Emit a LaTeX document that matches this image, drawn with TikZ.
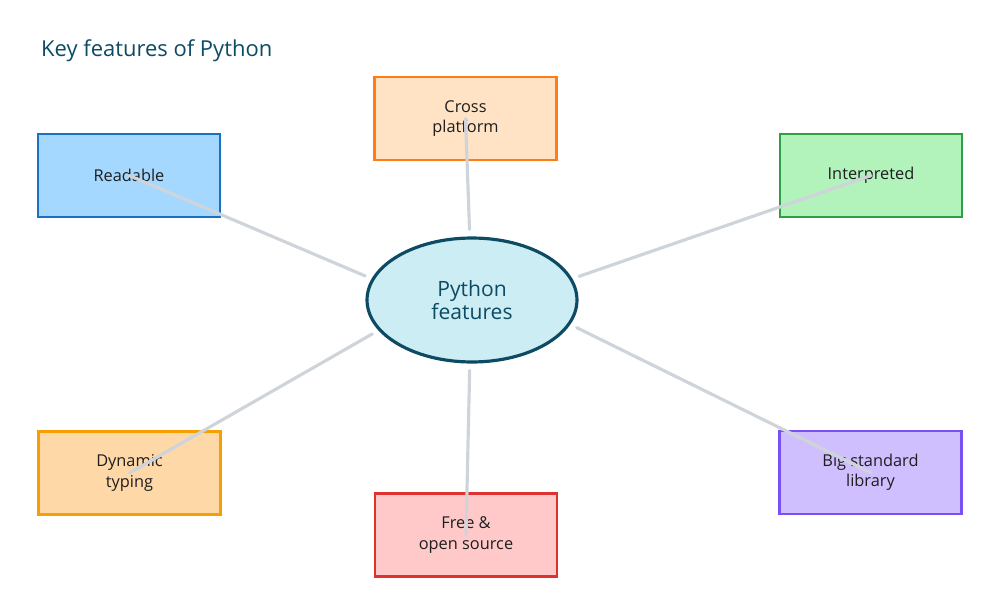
\documentclass[tikz,border=0pt]{standalone}
\usepackage{fontspec}
\setmainfont{Open Sans}
\usetikzlibrary{shapes.geometric}
\definecolor{ink}{HTML}{1E1E1E}
\definecolor{hubline}{HTML}{0D4A63}
\definecolor{hubfill}{HTML}{CDEDF4}
\definecolor{linkgray}{HTML}{CED4DA}
\definecolor{blueline}{HTML}{1971C2}
\definecolor{bluefill}{HTML}{A5D8FF}
\definecolor{greenline}{HTML}{2F9E44}
\definecolor{greenfill}{HTML}{B2F2BB}
\definecolor{crossline}{HTML}{FD7E14}
\definecolor{crossfill}{HTML}{FFE3C4}
\definecolor{dynline}{HTML}{F59F00}
\definecolor{dynfill}{HTML}{FFD8A8}
\definecolor{redline}{HTML}{E03131}
\definecolor{redfill}{HTML}{FFC9C9}
\definecolor{violetline}{HTML}{7950F2}
\definecolor{violetfill}{HTML}{D0BFFF}

\begin{document}
\begin{tikzpicture}[x=0.02cm, y=-0.02cm,
  feat/.style={rectangle, draw, line width=1.5pt, minimum width=3.64cm, minimum height=1.66cm, align=center, font=\fontsize{9.3}{11.5}\selectfont, text=ink},
  hubnode/.style={ellipse, draw=hubline, line width=1.8pt, fill=hubfill, minimum width=4.2cm, minimum height=2.48cm, align=center, font=\fontsize{12}{13.5}\selectfont, text=hubline},
  link/.style={line width=1.8pt, draw=linkgray, line cap=round}
]
  \useasboundingbox (0,0) rectangle (1000,615);
  \node[anchor=west, font=\fontsize{12.5}{14}\selectfont, text=hubline] (title) at (35,51) {Key features of Python};
  \node[feat, draw=crossline, fill=crossfill] (cross) at (465.5,118.5) {Cross\\platform};
  \node[feat, draw=blueline, fill=bluefill] (readable) at (129,175.5) {Readable};
  \node[feat, draw=greenline, fill=greenfill] (interp) at (871,175.5) {Interpreted};
  \node[feat, draw=dynline, fill=dynfill] (dynamic) at (129.5,473) {Dynamic\\typing};
  \node[feat, draw=redline, fill=redfill] (free) at (466,535) {Free \&\\open source};
  \node[feat, draw=violetline, fill=violetfill] (biglib) at (870.5,472.5) {Big standard\\library};
  \node[hubnode] (hub) at (472,300) {Python\\features};
  \foreach \b/\a in {cross/92, readable/168, interp/12, dynamic/198, free/268, biglib/346}
    {\draw[link, shorten <=4pt] (hub.\a) -- (\b.center);}
\end{tikzpicture}
\end{document}
